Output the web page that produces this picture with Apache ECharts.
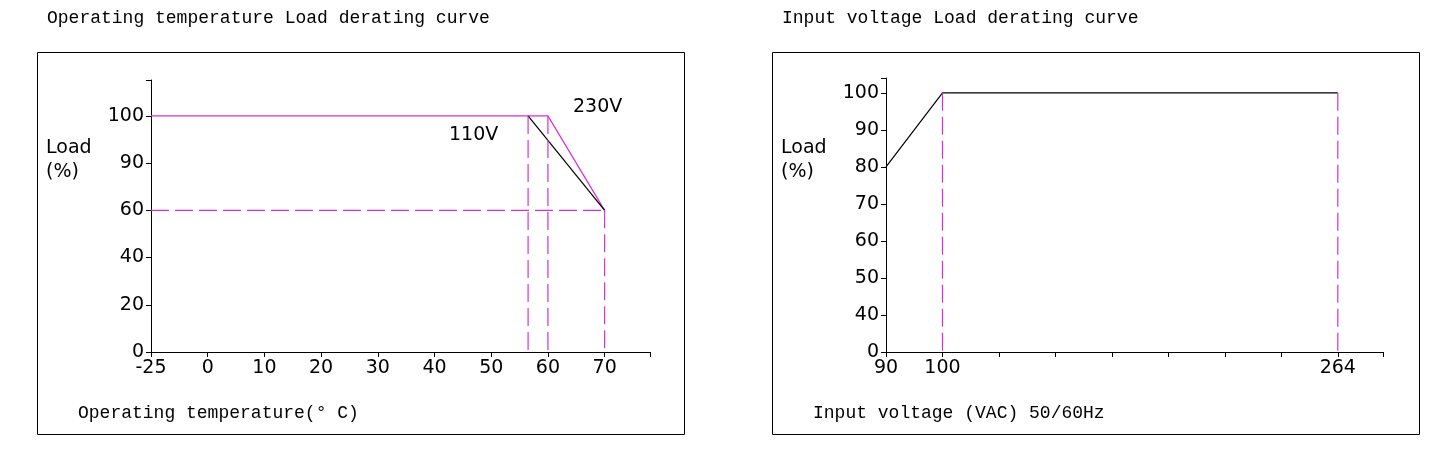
<!DOCTYPE html>
<html lang="en">
<head>
<meta charset="UTF-8">
<title>Load derating curves</title>
<script src="https://cdn.jsdelivr.net/npm/echarts@6/dist/echarts.min.js"></script>
<style>body{margin:0;background:#fff}</style>
</head>
<body>
<div id="main" style="width:1456px;height:463px;"></div>
<script>
// left chart: tick labels sit at equal spacing, so values are mapped to tick index
var tempTicks = [-25, 0, 10, 20, 30, 40, 50, 60, 70];
var loadTicksL = [0, 20, 40, 60, 90, 100];
var line110 = [[56.5, 100], [70, 60]];
var line230 = [[-25, 100], [60, 100], [70, 60]];
var dashTemps = [56.5, 60, 70];
var dashLoad = 60;

// right chart
var voltTicks = [90, 100, '', '', '', '', '', '', 264];
var voltVals = [90, 100, 264];
var loadTicksR = [0, 40, 50, 60, 70, 80, 90, 100];
var inputLine = [[90, 80], [100, 100], [264, 100]];

var magenta = '#d62fd6';

function mapPiece(v, ticks) {
    var t = ticks.filter(function (x) { return x !== ''; });
    var idx = ticks.map(function (x, i) { return x === '' ? null : i; }).filter(function (x) { return x !== null; });
    for (var i = 0; i < t.length - 1; i++) {
        if (v >= t[i] && v <= t[i + 1]) return idx[i] + (v - t[i]) / (t[i + 1] - t[i]) * (idx[i + 1] - idx[i]);
    }
    return idx[idx.length - 1];
}
function tx(v) { return mapPiece(v, tempTicks); }
function lyL(v) { return mapPiece(v, loadTicksL); }
function vx(v) { return mapPiece(v, voltTicks); }
function lyR(v) { return mapPiece(v, loadTicksR); }

function ptsL(arr) { return arr.map(function (p) { return [tx(p[0]), lyL(p[1])]; }); }
function ptsR(arr) { return arr.map(function (p) { return [vx(p[0]), lyR(p[1])]; }); }

var tickFont = {fontFamily: 'DejaVu Sans', fontSize: 19, color: '#000', margin: 7};
var monoFont = 'Liberation Mono';

function axisBase(labels, min, max) {
    return {
        type: 'value', min: min, max: max, interval: 1,
        axisLine: {show: true, lineStyle: {color: '#000', width: 1}},
        axisTick: {show: true, length: 5, lineStyle: {color: '#000'}},
        splitLine: {show: false},
        axisLabel: Object.assign({
            formatter: function (v) { var l = labels[Math.round(v)]; return (Math.abs(v - Math.round(v)) < 0.01 && l !== undefined) ? String(l) : ''; }
        }, tickFont)
    };
}

var series = [
    {type: 'line', xAxisIndex: 0, yAxisIndex: 0, data: ptsL(line230), symbol: 'none', lineStyle: {color: magenta, width: 1.2}},
    {type: 'line', xAxisIndex: 0, yAxisIndex: 0, data: ptsL(line110), symbol: 'none', lineStyle: {color: '#000', width: 1.2}},
    {type: 'line', xAxisIndex: 0, yAxisIndex: 0, data: [[tx(-25), lyL(dashLoad)], [tx(70), lyL(dashLoad)]], symbol: 'none', lineStyle: {color: magenta, width: 1.2, type: [18, 6]}},
    {type: 'line', xAxisIndex: 1, yAxisIndex: 1, data: ptsR(inputLine), symbol: 'none', lineStyle: {color: '#000', width: 1.2}}
];
dashTemps.forEach(function (t) {
    var top = t === 70 ? 60 : 100;
    series.push({type: 'line', xAxisIndex: 0, yAxisIndex: 0, data: [[tx(t), lyL(top)], [tx(t), 0]], symbol: 'none', lineStyle: {color: magenta, width: 1.2, type: [18, 6]}});
});
voltVals.slice(1).forEach(function (v) {
    series.push({type: 'line', xAxisIndex: 1, yAxisIndex: 1, data: [[vx(v), lyR(100)], [vx(v), 0]], symbol: 'none', lineStyle: {color: magenta, width: 1.2, type: [18, 6]}});
});

var chart = echarts.init(document.getElementById('main'));
chart.setOption({
    animation: false,
    grid: [
        {left: 151, right: 1456 - 650, top: 80, bottom: 111},
        {left: 886, right: 73, top: 78, bottom: 111}
    ],
    xAxis: [
        Object.assign(axisBase(tempTicks, 0, 8.8), {gridIndex: 0}),
        Object.assign(axisBase(voltTicks, 0, 8.8), {gridIndex: 1})
    ],
    yAxis: [
        Object.assign(axisBase(loadTicksL, 0, 5.76), {gridIndex: 0}),
        Object.assign(axisBase(loadTicksR, 0, 7.4), {gridIndex: 1})
    ],
    series: series,
    graphic: [
        {type: 'rect', shape: {x: 37.5, y: 52.5, width: 647, height: 382}, style: {fill: 'none', stroke: '#000', lineWidth: 1}},
        {type: 'rect', shape: {x: 772.5, y: 52.5, width: 647, height: 382}, style: {fill: 'none', stroke: '#000', lineWidth: 1}},
        {type: 'text', left: 47, top: 9, style: {text: 'Operating temperature Load derating curve', font: '18px ' + monoFont, fill: '#000'}},
        {type: 'text', left: 782, top: 9, style: {text: 'Input voltage Load derating curve', font: '18px ' + monoFont, fill: '#000'}},
        {type: 'text', left: 78, top: 404, style: {text: 'Operating temperature(° C)', font: '18px ' + monoFont, fill: '#000'}},
        {type: 'text', left: 813, top: 404, style: {text: 'Input voltage (VAC) 50/60Hz', font: '18px ' + monoFont, fill: '#000'}},
        {type: 'text', left: 46, top: 136, style: {text: 'Load\n(%)', font: '19px DejaVu Sans', lineHeight: 24, fill: '#000'}},
        {type: 'text', left: 781, top: 136, style: {text: 'Load\n(%)', font: '19px DejaVu Sans', lineHeight: 24, fill: '#000'}},
        {type: 'text', left: 449, top: 126, style: {text: '110V', font: '19px DejaVu Sans', fill: '#000'}},
        {type: 'text', left: 573, top: 98, style: {text: '230V', font: '19px DejaVu Sans', fill: '#000'}}
    ]
});
</script>
</body>
</html>
